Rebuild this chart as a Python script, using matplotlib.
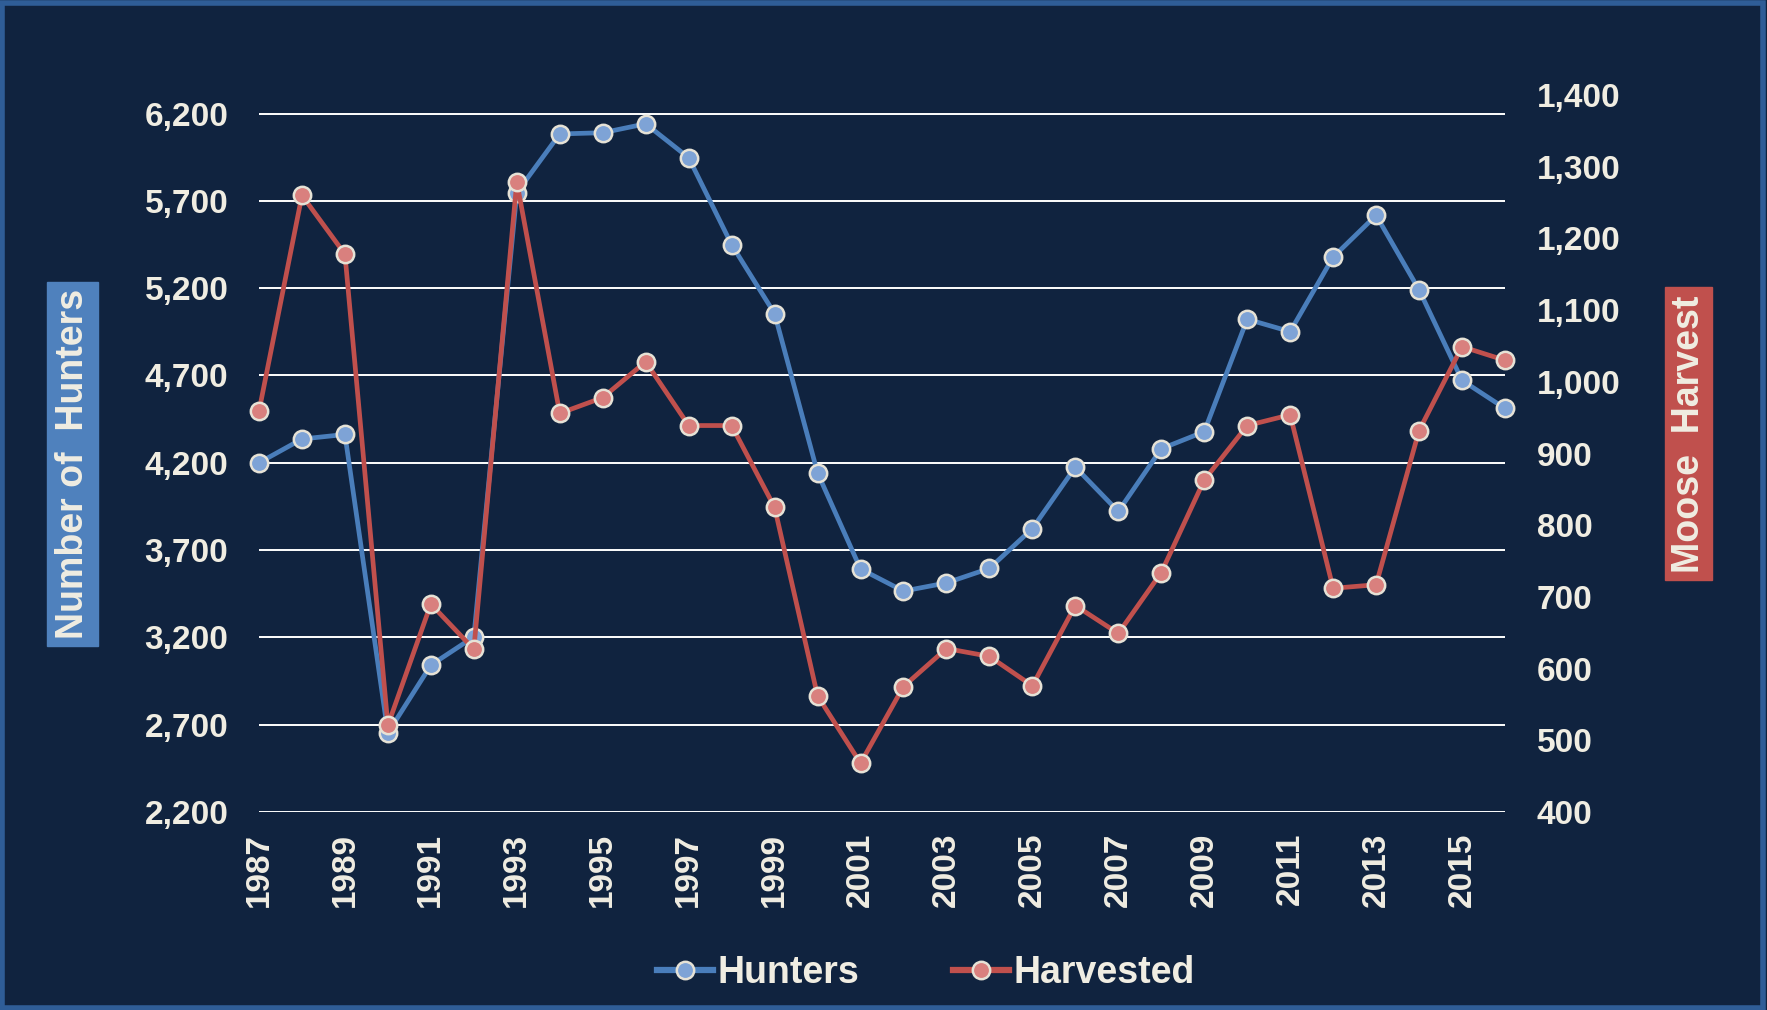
import matplotlib
matplotlib.use("Agg")
import matplotlib.pyplot as plt
from matplotlib.lines import Line2D
from matplotlib.patches import Rectangle

years = list(range(1987, 2017))
hunters = [4200, 4336, 4362, 2653, 3041, 3203, 5747, 6083, 6090, 6141,
           5947, 5449, 5054, 4142, 3592, 3465, 3512, 3595, 3823, 4175,
           3921, 4280, 4378, 5022, 4951, 5378, 5617, 5190, 4672, 4511]
harvested = [959, 1260, 1178, 521, 690, 627, 1279, 956, 978, 1028,
             939, 939, 825, 562, 468, 575, 628, 617, 576, 688,
             649, 734, 863, 939, 954, 712, 717, 932, 1049, 1030]

left_ticks = [2200, 2700, 3200, 3700, 4200, 4700, 5200, 5700, 6200]
right_ticks = [400, 500, 600, 700, 800, 900, 1000, 1100, 1200, 1300, 1400]
x_ticks = list(range(1987, 2017, 2))

bg = '#10233f'
txt = '#f0ede2'
blue = '#4a7ebb'
red = '#c0504d'
blue_mk = '#7ea3d6'
red_mk = '#d9807e'
edge = '#e6e2d6'

plt.rcParams['font.family'] = ['Liberation Sans', 'DejaVu Sans']
plt.rcParams['font.weight'] = 'bold'

W, H = 1767, 1010
fig = plt.figure(figsize=(W / 100, H / 100), dpi=100, facecolor=bg)
ax = fig.add_axes([259 / W, 1 - 812 / H, (1505 - 259) / W, (812 - 95) / H])
ax.set_facecolor(bg)
ax2 = ax.twinx()

ax.plot(years, hunters, '-o', color=blue, lw=3.4, ms=12.5, mfc=blue_mk, mec=edge, mew=1.8,
        zorder=3, clip_on=False)
ax2.plot(years, harvested, '-o', color=red, lw=3.4, ms=12.5, mfc=red_mk, mec=edge, mew=1.8,
         zorder=3, clip_on=False)

ax.set_xlim(1987, 2016)
ax.set_ylim(2200, 6306)
ax2.set_ylim(400, 1400)
ax.set_yticks(left_ticks)
ax.set_yticklabels(['{:,}'.format(v) for v in left_ticks])
ax2.set_yticks(right_ticks)
ax2.set_yticklabels(['{:,}'.format(v) for v in right_ticks])
ax.set_xticks(x_ticks)
ax.set_xticklabels([str(y) for y in x_ticks], rotation=90)

ax.grid(axis='y', color='white', lw=1.4, zorder=0)
ax.set_axisbelow(True)
for a in (ax, ax2):
    for s in a.spines.values():
        s.set_visible(False)
ax.tick_params(axis='y', length=0, pad=22, labelsize=24, labelcolor=txt)
ax.tick_params(axis='x', length=0, pad=15, labelsize=24, labelcolor=txt)
ax2.tick_params(axis='y', length=0, pad=23, labelsize=24, labelcolor=txt)

# axis title boxes
fig.patches.append(Rectangle((47 / W, 1 - 646 / H), 51 / W, 364 / H,
                             transform=fig.transFigure, color='#4f81bd', zorder=1))
fig.text(73 / W, 1 - 464 / H, 'Number of  Hunters', rotation=90, ha='center', va='center',
         fontsize=27, color=txt, zorder=2)
fig.patches.append(Rectangle((1665 / W, 1 - 580 / H), 47 / W, 293 / H,
                             transform=fig.transFigure, color=red, zorder=1))
fig.text(1689 / W, 1 - 434 / H, 'Moose  Harvest', rotation=90, ha='center', va='center',
         fontsize=27, color=txt, zorder=2)

handles = [Line2D([], [], color=blue, lw=4.5, marker='o', ms=12.5, mfc=blue_mk, mec=edge, mew=1.8),
           Line2D([], [], color=red, lw=4.5, marker='o', ms=12.5, mfc=red_mk, mec=edge, mew=1.8)]
leg = fig.legend(handles, ['Hunters', 'Harvested'], loc='center', bbox_to_anchor=(0.524, 0.037),
                 ncol=2, frameon=False, fontsize=27, handlelength=1.5, handletextpad=0.12,
                 columnspacing=2.5)
for t in leg.get_texts():
    t.set_color(txt)

# outer frame
fig.patches.append(Rectangle((0.001, 0.002), 0.997, 0.995, transform=fig.transFigure,
                             fill=False, edgecolor='#2f5d97', lw=4))

fig.savefig('out.png', dpi=100, facecolor=bg)
